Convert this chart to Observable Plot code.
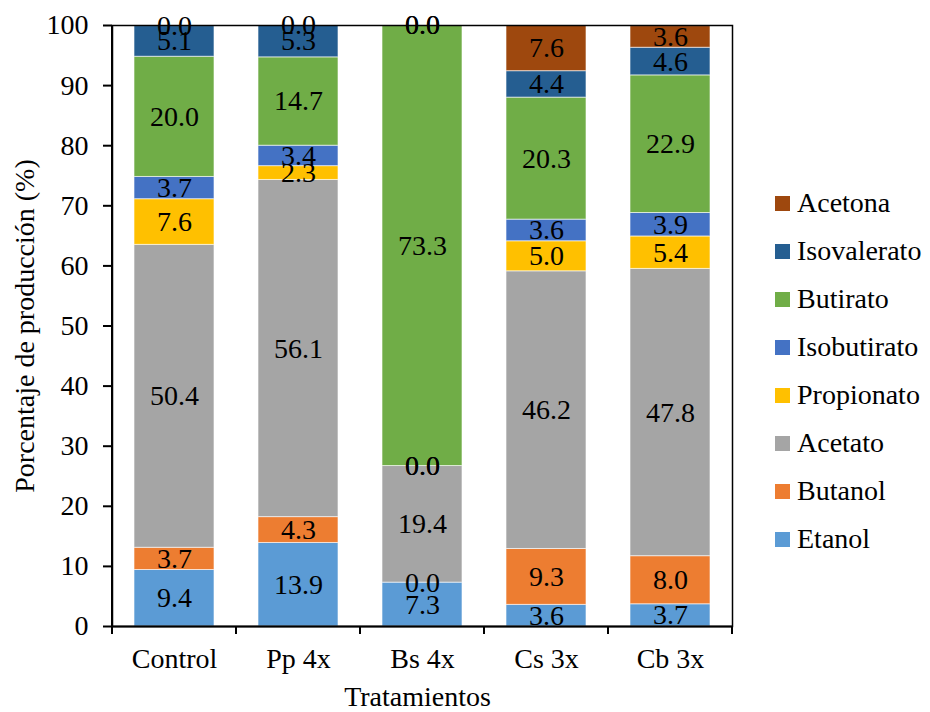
<!DOCTYPE html>
<html>
<head>
<meta charset="utf-8">
<script src="https://cdn.jsdelivr.net/npm/d3@7"></script>
<script src="https://cdn.jsdelivr.net/npm/@observablehq/plot@0.6"></script>
<style>
  body { margin: 0; background: #fff; }
  #wrap { position: relative; width: 930px; height: 712px; font-family: "Liberation Serif", "Times New Roman", serif; }
  #legend { position: absolute; left: 775px; top: 179px; }
  .row { display: flex; align-items: center; height: 48px; font-size: 28px; color: #000; }
  .sw { width: 15px; height: 15px; margin-right: 7px; }
  #wrap svg text { font-family: "Liberation Serif", "Times New Roman", serif; }
</style>
</head>
<body>
<div id="wrap"><div id="legend"></div></div>
<script>
// Treatments and the share of each fermentation product (%)
const categories = ["Control", "Pp 4x", "Bs 4x", "Cs 3x", "Cb 3x"];
const series = ["Etanol", "Butanol", "Acetato", "Propionato", "Isobutirato", "Butirato", "Isovalerato", "Acetona"];
const etanol      = [9.4, 13.9, 7.3, 3.6, 3.7];
const butanol     = [3.7, 4.3, 0.0, 9.3, 8.0];
const acetato     = [50.4, 56.1, 19.4, 46.2, 47.8];
const propionato  = [7.6, 2.3, 0.0, 5.0, 5.4];
const isobutirato = [3.7, 3.4, 0.0, 3.6, 3.9];
const butirato    = [20.0, 14.7, 73.3, 20.3, 22.9];
const isovalerato = [5.1, 5.3, 0.0, 4.4, 4.6];
const acetona     = [0.0, 0.0, 0.0, 7.6, 3.6];
const colors = ["#5B9BD5", "#ED7D31", "#A5A5A5", "#FFC000", "#4472C4", "#70AD47", "#255E91", "#9E480E"];
const yTicks = [0, 10, 20, 30, 40, 50, 60, 70, 80, 90, 100];
const yTitle = "Porcentaje de producción (%)";
const xTitle = "Tratamientos";

const values = [etanol, butanol, acetato, propionato, isobutirato, butirato, isovalerato, acetona];
const rows = [];
series.forEach((s, i) => categories.forEach((c, j) => rows.push({cat: c, series: s, value: values[i][j]})));
const fmt = d3.format(".1f");
const serif = "'Liberation Serif', 'Times New Roman', serif";

const chart = Plot.plot({
  width: 930,
  height: 712,
  marginLeft: 112,
  marginRight: 198,
  marginTop: 25,
  marginBottom: 86,
  style: {fontFamily: serif, fontSize: "28px", color: "#000", background: "transparent"},
  x: {domain: categories, paddingInner: 0.355, paddingOuter: 0.1775, tickSize: 0, tickPadding: 22, label: null},
  y: {domain: [0, 100], ticks: yTicks, tickSize: 9, tickPadding: 15, label: null, tickFormat: d3.format("d")},
  color: {domain: series, range: colors},
  marks: [
    Plot.barY(rows, Plot.stackY({x: "cat", y: "value", fill: "series", inset: 0, stroke: "#fff", strokeWidth: 1, strokeOpacity: 0.6})),
    Plot.text(rows, Plot.stackY({x: "cat", y: "value", z: "series", text: d => fmt(d.value), fill: "#000", fontSize: 28})),
    Plot.frame({stroke: "#000", strokeWidth: 1.5}),
    Plot.ruleY([0], {stroke: "#000", strokeWidth: 2}),
    Plot.text([yTitle], {frameAnchor: "left", textAnchor: "middle", rotate: -90, dx: -87, text: d => d, fontSize: 28, fill: "#000"}),
    Plot.text([xTitle], {frameAnchor: "bottom", textAnchor: "middle", dy: 79, dx: -5, text: d => d, fontSize: 28, fill: "#000"})
  ]
});

// Category boundary ticks and a heavier left axis line
const sx = chart.scale("x");
const [r0, r1] = sx.range;
const n = sx.domain.length;
const step = sx.step || (r1 - r0) / n;
const svg = d3.select(chart);
const y0 = 712 - 86;
const g = svg.append("g").attr("stroke", "#000").attr("stroke-width", 2);
d3.range(n + 1).forEach(k => {
  const x = r0 + k * step;
  g.append("line").attr("x1", x).attr("x2", x).attr("y1", y0).attr("y2", y0 + 8);
});
g.append("line").attr("x1", r0).attr("x2", r0).attr("y1", 25).attr("y2", y0);
svg.selectAll('[aria-label^="y-axis"] path, [aria-label^="y-axis"] line').attr("stroke-width", 2);

document.getElementById("wrap").prepend(chart);

// Legend, top entry is the top of the stack
const legend = d3.select("#legend");
series.slice().reverse().forEach(s => {
  const row = legend.append("div").attr("class", "row");
  row.append("div").attr("class", "sw").style("background", colors[series.indexOf(s)]);
  row.append("span").text(s);
});
</script>
</body>
</html>
